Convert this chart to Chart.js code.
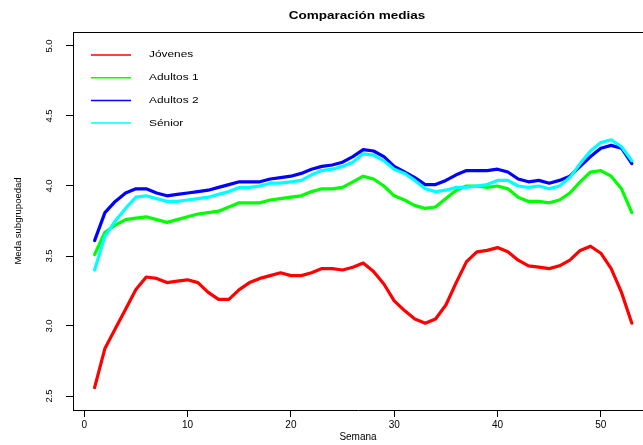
<!DOCTYPE html>
<html>
<head>
<meta charset="utf-8">
<script src="https://cdn.jsdelivr.net/npm/chart.js@4.4.1/dist/chart.umd.min.js"></script>
<style>
  html, body { margin: 0; padding: 0; background: #fff; }
  #grafico { display: block; }
</style>
</head>
<body>
<canvas id="grafico" width="643" height="445"></canvas>
<script>
// Semanas del año (eje X)
const semanas = [1, 2, 3, 4, 5, 6, 7, 8, 9, 10, 11, 12, 13, 14, 15, 16, 17, 18, 19, 20,
  21, 22, 23, 24, 25, 26, 27, 28, 29, 30, 31, 32, 33, 34, 35, 36, 37, 38, 39, 40,
  41, 42, 43, 44, 45, 46, 47, 48, 49, 50, 51, 52, 53];

// Media semanal de cada subgrupo de edad
const jovenes = [2.56, 2.84, 2.98, 3.12, 3.26, 3.35, 3.34, 3.31, 3.32, 3.33,
  3.31, 3.24, 3.19, 3.19, 3.26, 3.31, 3.34, 3.36, 3.38, 3.36,
  3.36, 3.38, 3.41, 3.41, 3.40, 3.42, 3.45, 3.39, 3.30, 3.18,
  3.11, 3.05, 3.02, 3.05, 3.15, 3.31, 3.46, 3.53, 3.54, 3.56,
  3.53, 3.47, 3.43, 3.42, 3.41, 3.43, 3.47, 3.54, 3.57, 3.52,
  3.41, 3.24, 3.02];
const adultos1 = [3.51, 3.67, 3.72, 3.76, 3.77, 3.78, 3.76, 3.74, 3.76, 3.78,
  3.80, 3.81, 3.82, 3.85, 3.88, 3.88, 3.88, 3.90, 3.91, 3.92,
  3.93, 3.96, 3.98, 3.98, 3.99, 4.03, 4.07, 4.05, 4.00, 3.93,
  3.90, 3.86, 3.84, 3.85, 3.91, 3.97, 4.00, 4.00, 3.99, 4.00,
  3.98, 3.92, 3.89, 3.89, 3.88, 3.90, 3.95, 4.03, 4.10, 4.11,
  4.07, 3.98, 3.81];
const adultos2 = [3.61, 3.81, 3.89, 3.95, 3.98, 3.98, 3.95, 3.93, 3.94, 3.95,
  3.96, 3.97, 3.99, 4.01, 4.03, 4.03, 4.03, 4.05, 4.06, 4.07,
  4.09, 4.12, 4.14, 4.15, 4.17, 4.21, 4.26, 4.25, 4.21, 4.14,
  4.10, 4.06, 4.01, 4.01, 4.04, 4.08, 4.11, 4.11, 4.11, 4.12,
  4.10, 4.05, 4.03, 4.04, 4.02, 4.04, 4.07, 4.14, 4.21, 4.27,
  4.29, 4.27, 4.16];
const senior = [3.40, 3.64, 3.75, 3.84, 3.92, 3.93, 3.91, 3.89, 3.89, 3.90,
  3.91, 3.92, 3.94, 3.96, 3.99, 3.99, 4.00, 4.02, 4.02, 4.03,
  4.04, 4.08, 4.11, 4.12, 4.14, 4.17, 4.23, 4.22, 4.18, 4.12,
  4.09, 4.04, 3.98, 3.96, 3.97, 3.99, 3.99, 4.00, 4.01, 4.04,
  4.04, 4.00, 3.99, 4.00, 3.98, 4.00, 4.06, 4.16, 4.25, 4.31,
  4.33, 4.28, 4.18];

// Marcas de los ejes
const marcasX = [0, 10, 20, 30, 40, 50];
const marcasY = [2.5, 3.0, 3.5, 4.0, 4.5, 5.0];

const series = [
  { nombre: "Jóvenes", valores: jovenes, color: "#ff0000" },
  { nombre: "Adultos 1", valores: adultos1, color: "#00ff00" },
  { nombre: "Adultos 2", valores: adultos2, color: "#0000ff" },
  { nombre: "Sénior", valores: senior, color: "#00ffff" },
];

const FUENTE = "'Liberation Sans', Arial, sans-serif";
const ANCHO_TEXTO = 1.35; // el texto horizontal sale algo ensanchado

Chart.defaults.font.family = FUENTE;
Chart.defaults.color = "#000";

// Título, marco superior y leyenda sin caja
const extras = {
  id: "extras",
  afterDraw(chart) {
    const ctx = chart.ctx;
    const area = chart.chartArea;

    // línea superior del marco
    ctx.save();
    ctx.strokeStyle = "#000";
    ctx.lineWidth = 1;
    ctx.beginPath();
    ctx.moveTo(area.left, Math.round(area.top) + 0.5);
    ctx.lineTo(area.right, Math.round(area.top) + 0.5);
    ctx.stroke();
    ctx.restore();

    // título
    ctx.save();
    ctx.translate((area.left + area.right) / 2 - 1, 16);
    ctx.scale(ANCHO_TEXTO, 1);
    ctx.font = "bold 10px " + FUENTE;
    ctx.fillStyle = "#000";
    ctx.textAlign = "center";
    ctx.textBaseline = "middle";
    ctx.fillText("Comparación medias", 0, 0);
    ctx.restore();

    // leyenda
    chart.data.datasets.forEach((ds, i) => {
      const y = area.top + 23 + i * 22.7;
      ctx.save();
      ctx.strokeStyle = ds.borderColor;
      ctx.lineWidth = 1.5;
      ctx.beginPath();
      ctx.moveTo(area.left + 18, y);
      ctx.lineTo(area.left + 58, y);
      ctx.stroke();
      ctx.translate(area.left + 76, y);
      ctx.scale(ANCHO_TEXTO, 1);
      ctx.font = "8.8px " + FUENTE;
      ctx.fillStyle = "#000";
      ctx.textAlign = "left";
      ctx.textBaseline = "middle";
      ctx.fillText(ds.label, 0, 0);
      ctx.restore();
    });
  },
};

const ctx = document.getElementById("grafico").getContext("2d");
new Chart(ctx, {
  type: "line",
  data: {
    datasets: series.map((s, i) => ({
      label: s.nombre,
      data: semanas.map((sem, k) => ({ x: sem, y: s.valores[k] })),
      borderColor: s.color,
      backgroundColor: s.color,
      borderWidth: 3.2,
      borderCapStyle: "round",
      borderJoinStyle: "round",
      pointRadius: 0,
      tension: 0,
      fill: false,
      order: series.length - i,
    })),
  },
  options: {
    responsive: false,
    devicePixelRatio: 1,
    animation: false,
    layout: { padding: { top: 32, right: 0, bottom: 0, left: 0 } },
    plugins: {
      legend: { display: false },
      title: { display: false },
      tooltip: { enabled: false },
    },
    scales: {
      x: {
        type: "linear",
        min: -1.09,
        max: 54.08,
        afterBuildTicks: (scale) => {
          scale.ticks = marcasX.map((v) => ({ value: v }));
        },
        afterFit: (scale) => {
          scale.height = 35;
        },
        grid: { drawOnChartArea: false, drawTicks: true, tickLength: 7, color: "#000" },
        border: { display: true, color: "#000", width: 1 },
        ticks: {
          autoSkip: false,
          maxRotation: 0,
          padding: 2,
          font: { size: 10 },
          color: "#000",
          callback: (v) => String(v),
        },
        title: {
          display: true,
          text: "Semana",
          font: { size: 10 },
          color: "#000",
          padding: { top: 0, bottom: 1.6 },
        },
      },
      y: {
        type: "linear",
        min: 2.4,
        max: 5.1,
        afterBuildTicks: (scale) => {
          scale.ticks = marcasY.map((v) => ({ value: v }));
        },
        afterFit: (scale) => {
          scale.width = 73;
        },
        grid: { drawOnChartArea: false, drawTicks: true, tickLength: 7, color: "#000" },
        border: { display: true, color: "#000", width: 1 },
        ticks: {
          autoSkip: false,
          minRotation: 90,
          maxRotation: 90,
          crossAlign: "center",
          padding: 10.2,
          font: { size: 9.5 },
          color: "#000",
          callback: (v) => v.toFixed(1),
        },
        title: {
          display: true,
          text: "Meda subgrupoedad",
          font: { size: 9.5 },
          color: "#000",
          padding: { top: 12.3, bottom: 0 },
        },
      },
    },
  },
  plugins: [extras],
});
</script>
</body>
</html>
